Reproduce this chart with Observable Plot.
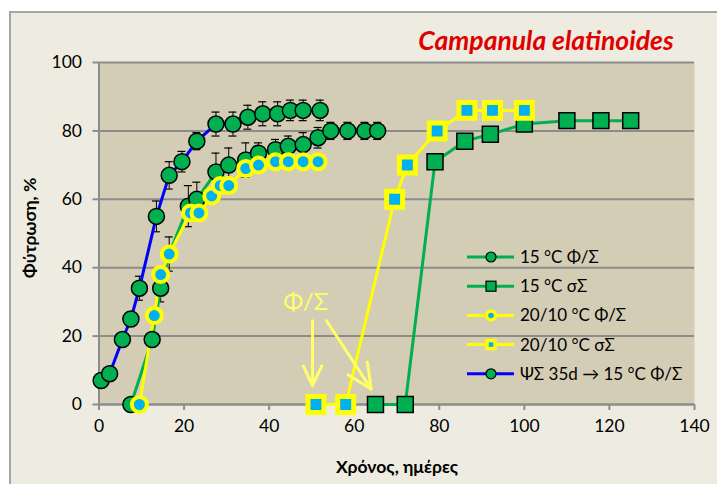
<!DOCTYPE html>
<html><head><meta charset="utf-8">
<script src="https://cdn.jsdelivr.net/npm/d3@7"></script>
<script src="https://cdn.jsdelivr.net/npm/@observablehq/plot@0.6"></script>
<style>body{margin:0;background:#fff;} #chart{width:717px;height:484px;}</style>
</head><body><div id="chart"></div>
<script>
// ---- data ----
const seriesNames = ["15 °C Φ/Σ", "15 °C σΣ", "20/10 °C Φ/Σ", "20/10 °C σΣ", "ΨΣ 35d → 15 °C Φ/Σ"];

const s15fX = [7.5, 12.5, 14.5, 16.5, 21, 23, 27.5, 30.5, 34.5, 37.5, 41.5, 44.5, 48, 51.5, 54.5, 58.5, 62.5, 65.5];
const s15fY = [0, 19, 34, 44, 58, 60, 68, 70, 71.5, 73.5, 74.5, 75.5, 76, 78, 80, 80, 80, 80];
const s15fE = [0, 1.5, 4, 5, 6, 5, 5.5, 5, 5, 3, 3, 3, 3.5, 3, 2.5, 2.5, 2.5, 2.5];

const s15sX = [65, 72, 79, 86, 92, 100, 110, 118, 125];
const s15sY = [0, 0, 71, 77, 79, 82, 83, 83, 83];

const s2010fX = [9.5, 13, 14.5, 16.5, 21.5, 23.5, 26.5, 28.5, 30.5, 34.5, 37.5, 41.5, 44.5, 48, 51.5];
const s2010fY = [0, 26, 38, 44, 56, 56, 61, 64, 64, 69, 70, 71, 71, 71, 71];

const s2010sX = [51, 58, 69.5, 72.5, 79.5, 86.5, 92.5, 100];
const s2010sY = [0, 0, 60, 70, 80, 86, 86, 86];

const sWarmX = [0.5, 2.5, 5.5, 7.5, 9.5, 13.5, 16.5, 19.5, 23, 27.5, 31.5, 35, 38.5, 42, 45, 48, 52];
const sWarmY = [7, 9, 19, 25, 34, 55, 67, 71, 77, 82, 82, 84, 85, 85, 86, 86, 86];
const sWarmE = [0, 0, 1.5, 2, 3.5, 4.5, 4, 3, 2.5, 3.5, 3.5, 3.5, 3.5, 3.5, 3, 3, 3];

const xTicks = [0, 20, 40, 60, 80, 100, 120, 140];
const yTicks = [0, 20, 40, 60, 80, 100];

const annotLabel = [{x: 48.6, y: 30, text: "Φ/Σ"}];
const annotArrows = [
  {x1: 50.2, y1: 24.5, x2: 50.2, y2: 5.5},
  {x1: 53.5, y1: 24.5, x2: 64, y2: 4.5}
];

const titleText = "Campanula elatinoides";
const xTitle = "Χρόνος, ημέρες";
const yTitle = "Φύτρωση, %";

// ---- build tables ----
const zip = (xs, ys, es) => xs.map((x, i) => ({x, y: ys[i], e: es ? es[i] : 0}));
const d15f = zip(s15fX, s15fY, s15fE);
const d15s = zip(s15sX, s15sY);
const d2010f = zip(s2010fX, s2010fY);
const d2010s = zip(s2010sX, s2010sY);
const dWarm = zip(sWarmX, sWarmY, sWarmE);

const GREEN = "#00B050", YELLOW = "#FFFF00", CYAN = "#00B0F0", BLUE = "#0000FF", PALE = "#FFFF66";
const GRID = "#8C8C8C";
const CURVE = "linear";

const errMarks = (data) => [
  Plot.ruleX(data, {filter: d => d.e > 0, x: "x", y1: d => d.y - d.e, y2: d => d.y + d.e, stroke: "black", strokeWidth: 1}),
  Plot.ruleY(data, {filter: d => d.e > 0, y: d => d.y + d.e, x1: "x", x2: "x", insetLeft: -4, insetRight: -4, stroke: "black", strokeWidth: 1.2}),
  Plot.ruleY(data, {filter: d => d.e > 0, y: d => d.y - d.e, x1: "x", x2: "x", insetLeft: -4, insetRight: -4, stroke: "black", strokeWidth: 1.2})
];

const chart = Plot.plot({
  width: 717, height: 484,
  marginLeft: 98.5, marginRight: 23, marginTop: 62, marginBottom: 80,
  x: {domain: [0, 140]},
  y: {domain: [0, 100]},
  style: {fontFamily: "Lato, sans-serif", fontSize: "17px", color: "#000", background: "transparent", overflow: "visible"},
  marks: [
    Plot.frame({fill: "#D4CDB5", stroke: null}),
    Plot.gridY(yTicks, {stroke: GRID, strokeOpacity: 1, strokeWidth: 2}),
    Plot.ruleX([0], {stroke: GRID, strokeWidth: 2}),
    Plot.ruleY([0], {stroke: GRID, strokeWidth: 2}),
    Plot.axisY(yTicks, {tickSize: 6, tickPadding: 11, stroke: GRID, strokeWidth: 2, label: null, fontSize: 17.5}),
    Plot.axisX(xTicks, {tickSize: 6, tickPadding: 9, stroke: GRID, strokeWidth: 2, label: null, fontSize: 17.5}),
    ...errMarks(d15f),
    ...errMarks(dWarm),
    Plot.line(d15f, {x: "x", y: "y", stroke: GREEN, strokeWidth: 3, curve: CURVE}),
    Plot.line(d15s, {x: "x", y: "y", stroke: GREEN, strokeWidth: 3, curve: CURVE}),
    Plot.line(d2010f, {x: "x", y: "y", stroke: YELLOW, strokeWidth: 3, curve: CURVE}),
    Plot.line(d2010s, {x: "x", y: "y", stroke: YELLOW, strokeWidth: 3, curve: CURVE}),
    Plot.line(dWarm, {x: "x", y: "y", stroke: BLUE, strokeWidth: 3, curve: CURVE}),
    Plot.dot(d15f, {x: "x", y: "y", r: 8, fill: GREEN, stroke: "black", strokeWidth: 1.5}),
    Plot.dot(d15s, {x: "x", y: "y", r: 9, symbol: "square", fill: GREEN, stroke: "black", strokeWidth: 1.5}),
    Plot.dot(d2010f, {x: "x", y: "y", r: 7.5, fill: CYAN, stroke: YELLOW, strokeWidth: 4}),
    Plot.dot(d2010s, {x: "x", y: "y", r: 9, symbol: "square", fill: CYAN, stroke: YELLOW, strokeWidth: 5}),
    Plot.dot(dWarm, {x: "x", y: "y", r: 8, fill: GREEN, stroke: "black", strokeWidth: 1.5}),
    Plot.arrow(annotArrows, {x1: "x1", y1: "y1", x2: "x2", y2: "y2", stroke: PALE, strokeWidth: 3, headLength: 14, headAngle: 50}),
    Plot.text(annotLabel, {x: "x", y: "y", text: "text", fill: PALE, fontSize: 24})
  ]
});

document.getElementById("chart").appendChild(chart);

// ---- decorations: outer panel, titles, legend ----
const svg = d3.select(chart);
svg.insert("rect", ":first-child")
  .attr("x", 10).attr("y", 12).attr("width", 720).attr("height", 480)
  .attr("fill", "#EEECE1").attr("stroke", "#A6A6A6").attr("stroke-width", 2);

svg.append("text").text(titleText)
  .attr("x", 546).attr("y", 50).attr("text-anchor", "middle")
  .attr("fill", "#E00000").attr("font-size", 26.5).attr("font-weight", "bold").attr("font-style", "italic")
  .attr("font-family", "Lato, sans-serif");

svg.append("text").text(xTitle)
  .attr("x", 397).attr("y", 473).attr("text-anchor", "middle")
  .attr("font-size", 17.5).attr("font-weight", "bold").attr("font-family", "Lato, sans-serif");

svg.append("text").text(yTitle)
  .attr("transform", "translate(36,228) rotate(-90)").attr("text-anchor", "middle")
  .attr("font-size", 17.5).attr("font-weight", "bold").attr("font-family", "Lato, sans-serif");

const legendRows = [
  {name: seriesNames[0], line: GREEN, shape: "circle", fill: GREEN, stroke: "black", sw: 1.2, size: 5},
  {name: seriesNames[1], line: GREEN, shape: "square", fill: GREEN, stroke: "black", sw: 1.2, size: 10},
  {name: seriesNames[2], line: YELLOW, shape: "circle", fill: CYAN, stroke: YELLOW, sw: 3.5, size: 4.5},
  {name: seriesNames[3], line: YELLOW, shape: "square", fill: CYAN, stroke: YELLOW, sw: 3.5, size: 8},
  {name: seriesNames[4], line: BLUE, shape: "circle", fill: GREEN, stroke: "black", sw: 1.2, size: 5}
];
const lg = svg.append("g").attr("font-family", "Lato, sans-serif").attr("font-size", 17).attr("text-anchor", "start");
legendRows.forEach((r, i) => {
  const y = 257 + i * 29.2;
  lg.append("line").attr("x1", 467).attr("x2", 514).attr("y1", y).attr("y2", y)
    .attr("stroke", r.line).attr("stroke-width", 3);
  if (r.shape === "circle") {
    lg.append("circle").attr("cx", 491).attr("cy", y).attr("r", r.size)
      .attr("fill", r.fill).attr("stroke", r.stroke).attr("stroke-width", r.sw);
  } else {
    lg.append("rect").attr("x", 491 - r.size / 2).attr("y", y - r.size / 2).attr("width", r.size).attr("height", r.size)
      .attr("fill", r.fill).attr("stroke", r.stroke).attr("stroke-width", r.sw);
  }
  lg.append("text").text(r.name).attr("x", 520).attr("y", y).attr("dy", "0.35em").attr("text-anchor", "start").attr("fill", "#000");
});
</script>
</body></html>
